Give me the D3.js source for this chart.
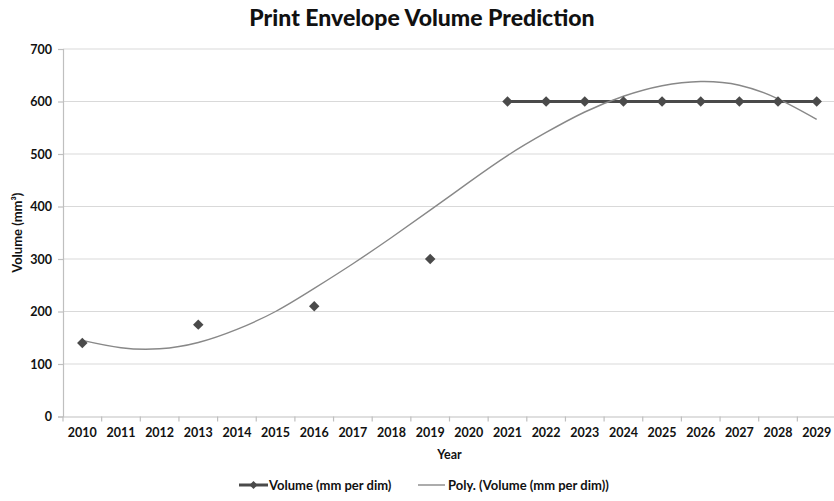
<!DOCTYPE html>
<html>
<head>
<meta charset="utf-8">
<script src="https://cdn.jsdelivr.net/npm/d3@7/dist/d3.min.js"></script>
<style>
  html, body { margin: 0; padding: 0; background: #fff; }
  svg { display: block; font-family: Lato, "Open Sans", sans-serif; }
</style>
</head>
<body>
<svg id="chart" width="834" height="501"></svg>
<script>
// Categories (years) on the x axis
const years = ["2010","2011","2012","2013","2014","2015","2016","2017","2018","2019",
               "2020","2021","2022","2023","2024","2025","2026","2027","2028","2029"];

// Volume (mm per dim); null where no value exists for that year
const volume = [140, null, null, 175, null, null, 210, null, null, 300,
                null, 600, 600, 600, 600, 600, 600, 600, 600, 600];

// Polynomial trendline of the volume series, one value per year
const polyTrend = [145, 131, 129, 141, 166, 200, 244, 291, 341, 393,
                   446, 497, 541, 580, 610, 630, 638, 631, 605, 566];

// Y axis tick values
const yTicks = [0, 100, 200, 300, 400, 500, 600, 700];

const svg = d3.select("#chart");

const plotLeft = 63, plotRight = 836, plotTop = 49, plotBottom = 416.5;

const x = d3.scaleBand().domain(years).range([plotLeft, plotRight]).padding(0);
const y = d3.scaleLinear().domain([0, 700]).range([plotBottom, plotTop]);
const cx = d => x(d) + x.bandwidth() / 2;

// Horizontal gridlines
svg.append("g")
  .selectAll("line")
  .data(yTicks.filter(t => t > 0))
  .join("line")
  .attr("x1", plotLeft).attr("x2", plotRight)
  .attr("y1", d => y(d)).attr("y2", d => y(d))
  .attr("stroke", "#d9d9d9").attr("stroke-width", 1.2);

// Y axis
const yAxis = svg.append("g")
  .attr("transform", `translate(${plotLeft},0)`)
  .call(d3.axisLeft(y).tickValues(yTicks).tickSize(5).tickPadding(6));
yAxis.select(".domain").attr("stroke", "#bfbfbf").attr("stroke-width", 1.2);
yAxis.selectAll(".tick line").attr("stroke", "#bfbfbf").attr("stroke-width", 1.2);
yAxis.selectAll(".tick text")
  .attr("font-family", "Lato, sans-serif").attr("font-size", 12.5)
  .attr("font-weight", "bold").attr("fill", "#111");

// X axis
const xAxis = svg.append("g")
  .attr("transform", `translate(0,${plotBottom})`)
  .call(d3.axisBottom(x).tickSize(0).tickPadding(12).tickSizeOuter(0));
xAxis.select(".domain").attr("stroke", "#bfbfbf").attr("stroke-width", 1.2);
xAxis.selectAll(".tick text")
  .attr("font-family", "Lato, sans-serif").attr("font-size", 12.5)
  .attr("font-weight", "bold").attr("fill", "#111");

// Tick marks at category boundaries
svg.append("g")
  .selectAll("line")
  .data(years)
  .join("line")
  .attr("x1", d => x(d)).attr("x2", d => x(d))
  .attr("y1", plotBottom).attr("y2", plotBottom + 5)
  .attr("stroke", "#bfbfbf").attr("stroke-width", 1.2);

// Volume line (only between consecutive values)
const line = d3.line()
  .defined(d => d.v !== null)
  .x(d => cx(d.year))
  .y(d => y(d.v));
const volData = years.map((yr, i) => ({ year: yr, v: volume[i] }));

svg.append("path")
  .datum(volData)
  .attr("d", line)
  .attr("fill", "none")
  .attr("stroke", "#4a4a4a")
  .attr("stroke-width", 3);

// Polynomial trendline
const trendData = years.map((yr, i) => ({ year: yr, v: polyTrend[i] }));
svg.append("path")
  .datum(trendData)
  .attr("d", d3.line().x(d => cx(d.year)).y(d => y(d.v)).curve(d3.curveNatural))
  .attr("fill", "none")
  .attr("stroke", "#888")
  .attr("stroke-width", 1.4);

// Diamond markers
const diamond = d3.symbol().type(d3.symbolDiamond2).size(70);
svg.append("g")
  .selectAll("path")
  .data(volData.filter(d => d.v !== null))
  .join("path")
  .attr("transform", d => `translate(${cx(d.year)},${y(d.v)})`)
  .attr("d", diamond)
  .attr("fill", "#4a4a4a");

// Title
svg.append("text")
  .attr("x", 422).attr("y", 26)
  .attr("text-anchor", "middle")
  .attr("font-family", "Lato, sans-serif")
  .attr("font-size", 23).attr("font-weight", 900)
  .attr("fill", "#111")
  .text("Print Envelope Volume Prediction");

// Axis titles
svg.append("text")
  .attr("transform", `translate(22,${(plotTop + plotBottom) / 2}) rotate(-90)`)
  .attr("text-anchor", "middle")
  .attr("font-family", "Lato, sans-serif")
  .attr("font-size", 13).attr("font-weight", "bold")
  .attr("fill", "#111")
  .text("Volume (mm³)");

svg.append("text")
  .attr("x", (plotLeft + plotRight) / 2).attr("y", 459)
  .attr("text-anchor", "middle")
  .attr("font-family", "Lato, sans-serif")
  .attr("font-size", 12.5).attr("font-weight", "bold")
  .attr("fill", "#111")
  .text("Year");

// Legend
const legend = svg.append("g").attr("transform", "translate(0,485)");
legend.append("line")
  .attr("x1", 239).attr("x2", 268).attr("y1", 0).attr("y2", 0)
  .attr("stroke", "#4a4a4a").attr("stroke-width", 3);
legend.append("path")
  .attr("transform", "translate(253.5,0)")
  .attr("d", d3.symbol().type(d3.symbolDiamond2).size(40))
  .attr("fill", "#4a4a4a");
legend.append("text")
  .attr("x", 269).attr("y", 4.5)
  .attr("font-family", "Lato, sans-serif")
  .attr("font-size", 13).attr("font-weight", "bold").attr("fill", "#111")
  .text("Volume (mm per dim)");
legend.append("line")
  .attr("x1", 418).attr("x2", 445).attr("y1", 0).attr("y2", 0)
  .attr("stroke", "#888").attr("stroke-width", 1.4);
legend.append("text")
  .attr("x", 448).attr("y", 4.5)
  .attr("font-family", "Lato, sans-serif")
  .attr("font-size", 13).attr("font-weight", "bold").attr("fill", "#111")
  .text("Poly. (Volume (mm per dim))");
</script>
</body>
</html>
